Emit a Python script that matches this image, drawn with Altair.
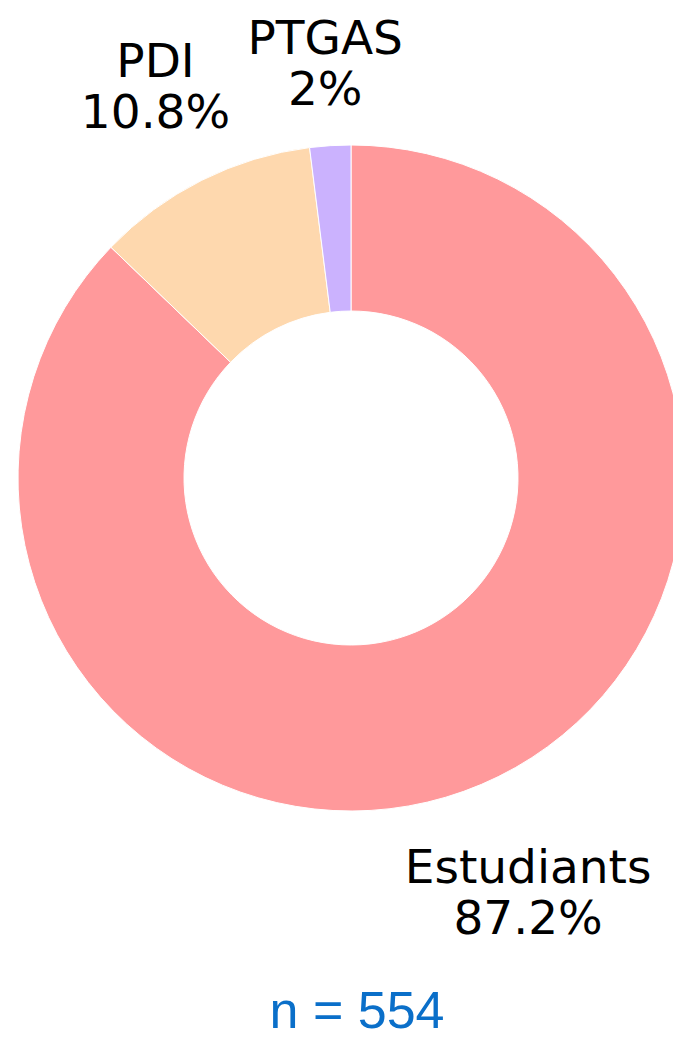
import altair as alt
import pandas as pd

categories = ["Estudiants", "PDI", "PTGAS"]
counts = [483, 60, 11]
percents = [87.2, 10.8, 2]
colors = ["#FF999B", "#FED8AE", "#CBB2FE"]

df = pd.DataFrame({"cat": categories, "count": counts, "pct": percents,
                   "order": list(range(len(categories)))})

TAU = "6.283185307179586"

base = alt.Chart(df).transform_window(
    cum="sum(count)", sort=[alt.SortField("order")], frame=[None, 0]
).transform_joinaggregate(
    total="sum(count)"
).transform_calculate(
    t0=f"(datum.cum - datum.count) / datum.total * {TAU}",
    t1=f"datum.cum / datum.total * {TAU}",
    tm=f"(datum.cum - datum.count / 2) / datum.total * {TAU}",
)

arcs = base.mark_arc(outerRadius=333, innerRadius=167, stroke="white", strokeWidth=1).encode(
    theta=alt.Theta("t0:Q", scale=None),
    theta2="t1:Q",
    x=alt.value(343), y=alt.value(470),
    color=alt.Color("cat:N", scale=alt.Scale(domain=categories, range=colors), legend=None),
)

labels = base.transform_calculate(
    label="[datum.cat, format(datum.pct, '.1~f') + '%']",
    lr="datum.cat == 'PTGAS' ? 414 : (datum.cat == 'PDI' ? 436 : 452)",
).mark_text(fontSize=47, font="DejaVu Sans", lineHeight=51, align="center", baseline="middle",
            dy=-25, color="black").encode(
    theta=alt.Theta("tm:Q", scale=None),
    radius=alt.Radius("lr:Q", scale=None),
    x=alt.value(343), y=alt.value(470),
    text="label:N",
)

ntext = alt.Chart(df).transform_aggregate(total="sum(count)").transform_calculate(
    t="'n = ' + datum.total"
).mark_text(fontSize=52, font="Liberation Sans", color="#0A6FC9", align="center",
            baseline="alphabetic").encode(
    x=alt.value(349), y=alt.value(1020), text="t:N"
)

chart = alt.layer(arcs, labels, ntext).properties(
    width=665, height=1031, padding=0,
    autosize=alt.AutoSizeParams(type="none"),
).configure_view(stroke=None)

chart.save("out.html", embed_options={"renderer": "svg", "actions": False})
